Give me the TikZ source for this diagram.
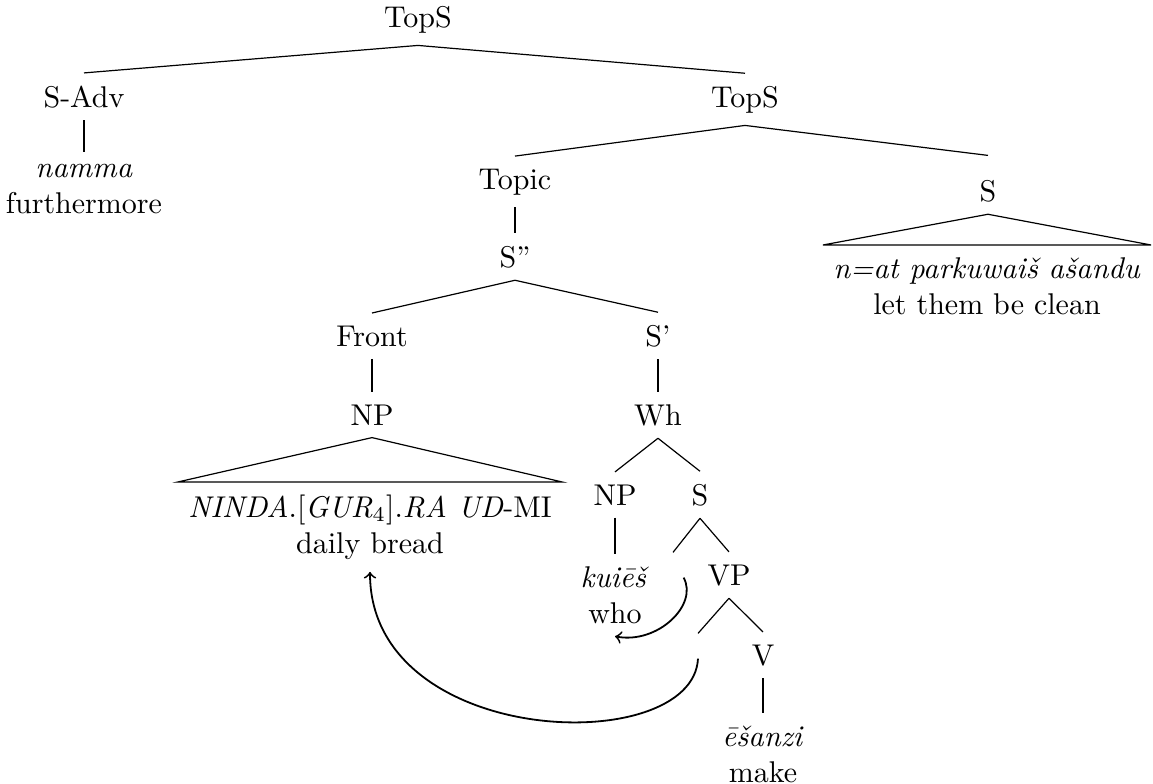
\documentclass[tikz,border=0pt]{standalone}
\usepackage{fontspec}
\begin{document}
\begin{tikzpicture}[x=0.3333pt, y=-0.3333pt,
  tn/.style={inner xsep=3.33pt, inner ysep=4pt},
  lbl/.style={tn, anchor=base},
  leaf/.style={tn, anchor=north, align=center},
  branch/.style={line width=0.4pt},
  mvarrow/.style={semithick, ->}]
\useasboundingbox (0,0) rectangle (1153,784);

% labelled constituents
\node[lbl] (root)  at (418,27)  {TopS};
\node[lbl] (sadv)  at (84,107)  {S-Adv};
\node[lbl] (tops)  at (745,107) {TopS};
\node[lbl] (topic) at (515,189) {Topic};
\node[lbl, text height=11pt] (sr) at (988,201) {S};
\node[lbl] (sdd)   at (515,267) {S''};
\node[lbl] (front) at (372,346) {Front};
\node[lbl] (sd)    at (658,346) {S'};
\node[lbl] (np)    at (372,425) {NP};
\node[lbl] (wh)    at (658,425) {Wh};
\node[lbl] (npw)   at (615,505) {NP};
\node[lbl] (sw)    at (700,505) {S};
\node[lbl] (vp)    at (729,585) {VP};
\node[lbl] (v)     at (763,665) {V};

% empty positions (traces)
\node[tn] (e1) at (673,565) {};
\node[tn] (e2) at (698,646) {};

% leaves
\node[leaf] (namma) at (84,152)  {\textit{namma}\\furthermore};
\node[leaf] (clean) at (987,245) {\textit{n=at parkuwaiš ašandu}\\let them be clean};
\node[leaf] (bread) at (370,482) {\textit{NINDA}.[\textit{GUR}$_4$].\textit{RA UD}-MI\\daily bread};
\node[leaf] (who)   at (615,554) {\textit{kuiēš}\\who};
\node[leaf] (make)  at (763,713) {\textit{ēšanzi}\\make};

% branches
\draw[branch] (root.south) -- (sadv.north);
\draw[branch] (root.south) -- (tops.north);
\draw[branch] (sadv.south) -- (namma.north);
\draw[branch] (tops.south) -- (topic.north);
\draw[branch] (tops.south) -- (sr.north);
\draw[branch] (topic.south) -- (sdd.north);
\draw[branch] (sdd.south) -- (front.north);
\draw[branch] (sdd.south) -- (sd.north);
\draw[branch] (front.south) -- (np.north);
\draw[branch] (sd.south) -- (wh.north);
\draw[branch] (wh.south) -- (npw.north);
\draw[branch] (wh.south) -- (sw.north);
\draw[branch] (npw.south) -- (who.north);
\draw[branch] (sw.south) -- (e1.north);
\draw[branch] (sw.south) -- (vp.north);
\draw[branch] (vp.south) -- (e2.north);
\draw[branch] (vp.south) -- (v.north);
\draw[branch] (v.south) -- (make.north);

% roofs over unanalysed material
\draw[branch] (np.south) -- (bread.north west) -- (bread.north east) -- cycle;
\draw[branch] (sr.south) -- (clean.north west) -- (clean.north east) -- cycle;

% movement arrows
\draw[mvarrow] (e1.south east) .. controls +(15,27) and +(43,8) .. (who.south);
\draw[mvarrow] (e2.south) .. controls +(-5,100) and +(0,177) .. (bread.south);
\end{tikzpicture}
\end{document}
